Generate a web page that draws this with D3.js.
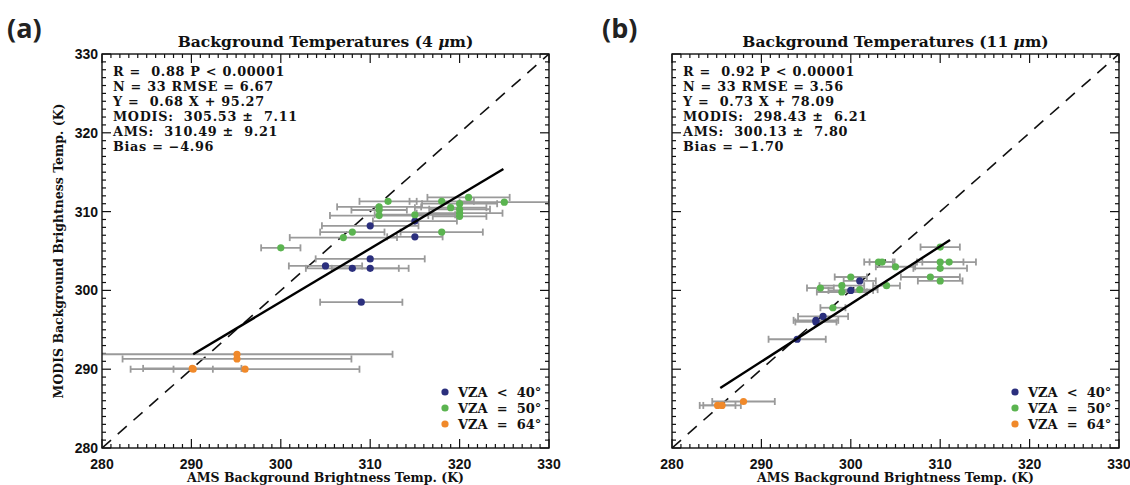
<!DOCTYPE html>
<html>
<head>
<meta charset="utf-8">
<script src="https://cdn.jsdelivr.net/npm/d3@7"></script>
<style>
  html, body { margin: 0; padding: 0; background: #fff; }
  svg { display: block; }
  .hershey { font-family: "DejaVu Serif", "Liberation Serif", serif; font-weight: bold; fill: #111; }
  .ticklbl { font-family: "Liberation Sans", Arial, sans-serif; font-weight: bold; font-size: 14px; fill: #111; }
  .panel { font-family: "Open Sans", "Liberation Sans", sans-serif; font-weight: bold; font-size: 27px; fill: #222; }
</style>
</head>
<body>
<svg id="chart" width="1130" height="485"></svg>
<script>
// ---- data: [AMS temp, MODIS temp, AMS error] ----
const tickValues = [280, 290, 300, 310, 320, 330];
const groupNames = ['VZA  <  40\u00b0', 'VZA  =  50\u00b0', 'VZA  =  64\u00b0'];
const groupColors = ['#2b2f7d', '#5bb450', '#f0892a'];

const aBlue = [
  [310.0, 308.2, 5.4], [315.0, 308.8, 4.7], [315.0, 306.8, 3.1], [310.0, 304.0, 6.1],
  [305.0, 303.1, 4.1], [308.0, 302.8, 5.2], [310.0, 302.8, 4.3], [309.0, 298.5, 4.6],
];
const aGreen = [
  [312.0, 311.3, 3.2], [311.0, 310.6, 4.7], [311.0, 310.2, 3.1], [311.0, 309.5, 5.5],
  [321.0, 311.8, 4.6], [318.0, 311.3, 3.6], [320.0, 311.0, 4.2], [320.0, 310.3, 3.4],
  [320.0, 309.8, 4.8], [320.0, 309.4, 3.0], [319.0, 310.5, 4.0], [325.0, 311.2, 5.0],
  [315.0, 309.6, 4.5], [308.0, 307.4, 3.6], [307.0, 306.7, 6.0], [318.0, 307.4, 4.6],
  [300.0, 305.4, 2.2],
];
const aOrange = [
  [295.1, 291.9, 17.4], [295.1, 291.3, 12.8], [290.1, 290.1, 5.5], [290.2, 290.0, 2.2],
  [296.0, 290.0, 12.8],
];
const aFit = [[290.2, 291.9], [324.9, 315.4]];
const aStats = [
  'R =  0.88 P < 0.00001',
  'N = 33 RMSE = 6.67',
  'Y =  0.68 X + 95.27',
  'MODIS:  305.53 \u00b1  7.11',
  'AMS:  310.49 \u00b1  9.21',
  'Bias = \u22124.96',
];

const bBlue = [
  [301.0, 301.2, 1.8], [300.0, 300.0, 2.5], [296.9, 296.7, 2.8], [296.1, 296.2, 2.5],
  [296.1, 296.0, 2.3], [294.0, 293.8, 3.2],
];
const bGreen = [
  [310.0, 305.5, 2.2], [310.0, 303.6, 2.6], [311.0, 303.6, 3.0], [310.0, 302.8, 3.0],
  [308.9, 301.7, 3.3], [310.0, 301.2, 2.5], [303.1, 303.6, 1.6], [303.5, 303.6, 1.4],
  [305.0, 303.0, 2.2], [300.0, 301.7, 1.8], [304.0, 300.6, 1.5], [299.0, 300.6, 2.5],
  [296.6, 300.3, 1.5], [299.0, 299.8, 2.8], [301.0, 300.1, 2.0], [298.0, 297.8, 1.4],
];
const bOrange = [
  [288.0, 285.9, 3.5], [285.6, 285.4, 2.1], [285.1, 285.4, 2.0],
];
const bFit = [[285.4, 287.6], [311.1, 306.4]];
const bStats = [
  'R =  0.92 P < 0.00001',
  'N = 33 RMSE = 3.56',
  'Y =  0.73 X + 78.09',
  'MODIS:  298.43 \u00b1  6.21',
  'AMS:  300.13 \u00b1  7.80',
  'Bias = \u22121.70',
];

const svg = d3.select('#chart');

function drawPanel(opts) {
  const { left, top, width, height } = opts;
  const x = d3.scaleLinear().domain([280, 330]).range([left, left + width]);
  const y = d3.scaleLinear().domain([280, 330]).range([top + height, top]);
  const g = svg.append('g');

  const clipId = 'clip-' + opts.id;
  svg.append('clipPath').attr('id', clipId)
    .append('rect').attr('x', left).attr('y', top).attr('width', width).attr('height', height);

  // ticks inside the frame, on all four sides (minor every 1 K)
  const tickG = g.append('g').attr('stroke', '#111').attr('stroke-width', 1.2);
  d3.range(280, 331, 1).forEach((v) => {
    const len = v % 10 === 0 ? 9 : 4;
    tickG.append('line').attr('x1', x(v)).attr('x2', x(v)).attr('y1', top + height).attr('y2', top + height - len);
    tickG.append('line').attr('x1', x(v)).attr('x2', x(v)).attr('y1', top).attr('y2', top + len);
    tickG.append('line').attr('y1', y(v)).attr('y2', y(v)).attr('x1', left).attr('x2', left + len);
    tickG.append('line').attr('y1', y(v)).attr('y2', y(v)).attr('x1', left + width).attr('x2', left + width - len);
  });

  g.selectAll('.xt').data(tickValues).join('text')
    .attr('class', 'ticklbl')
    .attr('x', (d) => x(d)).attr('y', top + height + 21)
    .attr('text-anchor', 'middle').text((d) => d);

  if (opts.yLabels) {
    g.selectAll('.yt').data(tickValues).join('text')
      .attr('class', 'ticklbl')
      .attr('x', left - 4).attr('y', (d) => y(d) + 5)
      .attr('text-anchor', 'end').text((d) => d);
    g.append('text').attr('class', 'hershey')
      .attr('font-size', 12.5)
      .attr('transform', `translate(${left - 39},${top + height / 2}) rotate(-90)`)
      .attr('text-anchor', 'middle')
      .text('MODIS Background Brightness Temp. (K)');
  }

  g.append('text').attr('class', 'hershey')
    .attr('font-size', 12.5)
    .attr('x', left + width / 2).attr('y', top + height + 34)
    .attr('text-anchor', 'middle')
    .text('AMS Background Brightness Temp. (K)');

  const title = g.append('text').attr('class', 'hershey')
    .attr('font-size', 15.5)
    .attr('x', left + width / 2).attr('y', top - 7)
    .attr('text-anchor', 'middle');
  title.append('tspan').text(`Background Temperatures (${opts.band} `);
  title.append('tspan').attr('font-style', 'italic').text('\u03bc');
  title.append('tspan').text('m)');

  g.append('text').attr('class', 'panel')
    .attr('x', opts.letterX).attr('y', 38).text(opts.letter);

  const plot = g.append('g').attr('clip-path', `url(#${clipId})`);

  // 1:1 line
  plot.append('line')
    .attr('x1', x(280)).attr('y1', y(280)).attr('x2', x(330)).attr('y2', y(330))
    .attr('stroke', '#111').attr('stroke-width', 1.6).attr('stroke-dasharray', '12,9');

  const groups = [opts.blue, opts.green, opts.orange];
  groups.forEach((pts) => {
    const eb = plot.append('g').attr('stroke', '#9a9a9a').attr('stroke-width', 1.8);
    pts.forEach(([px, py, e]) => {
      eb.append('line').attr('x1', x(px - e)).attr('x2', x(px + e)).attr('y1', y(py)).attr('y2', y(py));
      [px - e, px + e].forEach((v) => {
        eb.append('line').attr('x1', x(v)).attr('x2', x(v)).attr('y1', y(py) - 3.5).attr('y2', y(py) + 3.5);
      });
    });
  });
  groups.forEach((pts, i) => {
    plot.append('g').selectAll('circle').data(pts).join('circle')
      .attr('cx', (d) => x(d[0])).attr('cy', (d) => y(d[1])).attr('r', 3.6)
      .attr('fill', groupColors[i]);
  });

  // regression line
  plot.append('line')
    .attr('x1', x(opts.fit[0][0])).attr('y1', y(opts.fit[0][1]))
    .attr('x2', x(opts.fit[1][0])).attr('y2', y(opts.fit[1][1]))
    .attr('stroke', '#000').attr('stroke-width', 2.4);

  g.append('rect').attr('x', left).attr('y', top).attr('width', width).attr('height', height)
    .attr('fill', 'none').attr('stroke', '#111').attr('stroke-width', 1.4);

  g.selectAll('.st').data(opts.stats).join('text')
    .attr('class', 'hershey').attr('font-size', 12.8)
    .attr('letter-spacing', 0.7)
    .attr('xml:space', 'preserve')
    .attr('x', left + 11).attr('y', (d, i) => top + 22 + i * 15)
    .text((d) => d);

  groupNames.forEach((name, i) => {
    const ly = top + height - 56 + i * 16;
    g.append('circle').attr('cx', opts.legendX).attr('cy', ly).attr('r', 3.6).attr('fill', groupColors[i]);
    g.append('text').attr('class', 'hershey').attr('font-size', 13)
      .attr('xml:space', 'preserve')
      .attr('x', opts.legendX + 13).attr('y', ly + 4.5).text(name);
  });
}

drawPanel({
  id: 'a', left: 102, top: 54, width: 447, height: 394, band: '4', letter: '(a)', letterX: 7,
  yLabels: true, blue: aBlue, green: aGreen, orange: aOrange, fit: aFit, stats: aStats, legendX: 445,
});
drawPanel({
  id: 'b', left: 672, top: 54, width: 447, height: 394, band: '11', letter: '(b)', letterX: 602,
  yLabels: false, blue: bBlue, green: bGreen, orange: bOrange, fit: bFit, stats: bStats, legendX: 1015,
});
</script>
</body>
</html>
